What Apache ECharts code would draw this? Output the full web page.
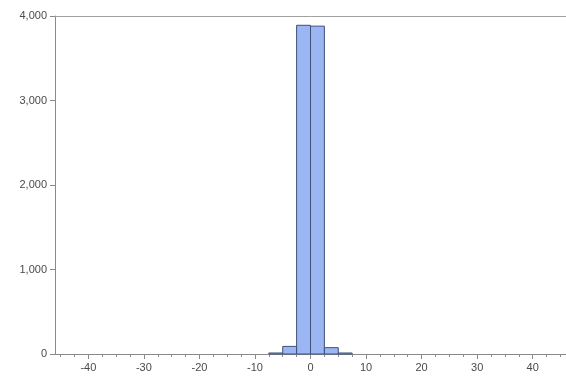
<!DOCTYPE html>
<html>
<head>
<meta charset="utf-8">
<script src="https://cdn.jsdelivr.net/npm/echarts@6/dist/echarts.min.js"></script>
<style>
  html, body { margin: 0; padding: 0; background: #fff; }
  #chart { width: 566px; height: 392px; }
</style>
</head>
<body>
<div id="chart"></div>
<script>
// Histogram bins: left edge of each bin, common width, and counts
const binStarts = [-7.5, -5, -2.5, 0, 2.5, 5];
const binWidth = 2.5;
const counts = [12, 90, 3890, 3880, 75, 12];

// Axis tick values
const xMajorTicks = [-40, -30, -20, -10, 0, 10, 20, 30, 40];
const xMinorTicks = [-45, -42.5, -37.5, -35, -32.5, -27.5, -25, -22.5, -17.5, -15, -12.5,
  -7.5, -5, -2.5, 2.5, 5, 7.5, 12.5, 15, 17.5, 22.5, 25, 27.5, 32.5, 35, 37.5, 42.5, 45];
const yTicks = [0, 1000, 2000, 3000, 4000];

const data = binStarts.map((s, i) => [s, s + binWidth, counts[i]]);

const axisColor = '#8a8a8a';
const labelStyle = { color: '#4a4a4a', fontSize: 11, fontFamily: 'Liberation Sans, Arial, sans-serif' };

const chart = echarts.init(document.getElementById('chart'), null, { renderer: 'canvas' });
chart.setOption({
  animation: false,
  grid: { left: 55, right: -5, top: 16, bottom: 38 },
  xAxis: [
    {
      type: 'value', min: -46, max: 46, position: 'bottom',
      axisLine: { show: true, onZero: false, lineStyle: { color: axisColor, width: 1 } },
      axisTick: { show: true, customValues: xMajorTicks, length: 5, lineStyle: { color: axisColor } },
      axisLabel: Object.assign({ customValues: xMajorTicks, margin: 8 }, labelStyle),
      splitLine: { show: false }
    },
    {
      type: 'value', min: -46, max: 46, position: 'bottom',
      axisLine: { show: false, onZero: false },
      axisTick: { show: true, customValues: xMinorTicks, length: 3, lineStyle: { color: axisColor } },
      axisLabel: { show: false },
      splitLine: { show: false }
    },
    {
      type: 'value', min: -46, max: 46, position: 'top',
      axisLine: { show: true, onZero: false, lineStyle: { color: '#a0a0a0', width: 1 } },
      axisTick: { show: false },
      axisLabel: { show: false },
      splitLine: { show: false }
    }
  ],
  yAxis: {
    type: 'value', min: 0, max: 4000, interval: 1000, position: 'left',
    axisLine: { show: true, onZero: false, lineStyle: { color: axisColor, width: 1 } },
    axisTick: { show: true, customValues: yTicks, length: 5, lineStyle: { color: axisColor } },
    axisLabel: Object.assign({
      customValues: yTicks,
      margin: 8,
      formatter: v => v.toLocaleString('en-US')
    }, labelStyle),
    splitLine: { show: false }
  },
  series: [{
    type: 'custom',
    xAxisIndex: 0,
    data: data,
    encode: { x: [0, 1], y: 2 },
    renderItem: function (params, api) {
      const p0 = api.coord([api.value(0), api.value(2)]);
      const p1 = api.coord([api.value(1), 0]);
      return {
        type: 'rect',
        shape: { x: p0[0], y: p0[1], width: p1[0] - p0[0], height: p1[1] - p0[1] },
        style: { fill: '#9bb6f3', stroke: '#3d5078', lineWidth: 1 }
      };
    }
  }]
});
</script>
</body>
</html>
